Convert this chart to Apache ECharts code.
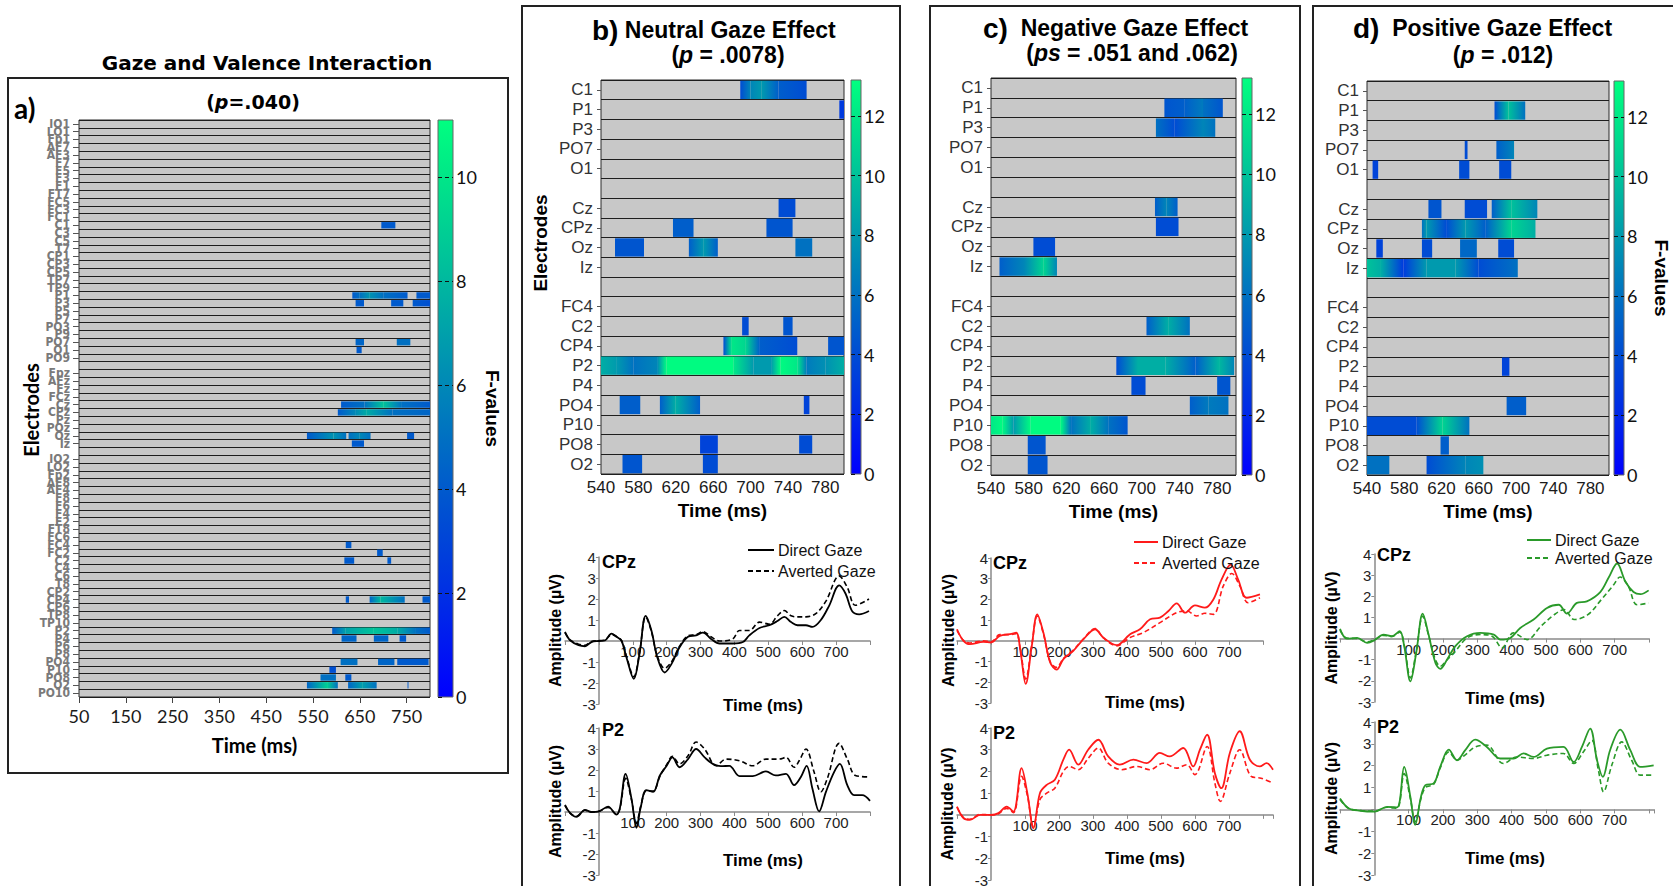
<!DOCTYPE html>
<html><head><meta charset="utf-8">
<script src="https://cdn.jsdelivr.net/npm/echarts@6/dist/echarts.min.js"></script>
<style>html,body{margin:0;padding:0;background:#fff}#c{width:1673px;height:886px}</style>
</head><body><div id="c"></div><script>
// ---------------- DATA ----------------
const electrodesA = ['IO1','LO1','Fp1','AF7','AF3','F7','F5','F3','F1','FT7','FC5','FC3','FC1','C1','C3','C5','T7','CP1','CP3','CP5','TP7','TP9','P1','P3','P5','P7','PO3','P9','PO7','O1','PO9','gap1',
  'Fpz','AFz','Fz','FCz','Cz','CPz','Pz','POz','Oz','Iz','gap2',
  'IO2','LO2','Fp2','AF8','AF4','F8','F6','F4','F2','FT8','FC6','FC4','FC2','C2','C4','C6','T8','CP2','CP4','CP6','TP8','TP10','P2','P4','P6','P8','PO4','P10','PO8','O2','PO10'];
const electrodesBCD = ['C1','P1','P3','PO7','O1','gap1','Cz','CPz','Oz','Iz','gap2','FC4','C2','CP4','P2','P4','PO4','P10','PO8','O2'];

const timeRangeA = [50, 800];   // tick labels 50,150,...,750
const timeStepA = 100;
const timeRangeBCD = [540, 800]; // tick labels 540,580,...,780
const timeStepBCD = 40;
const fMaxA = 11.1, fMaxBCD = 13.2;
const erpTimeMin = -100;

// clusters: [electrode, start ms, end ms, F at start, F at end]
const clustersA = [
 ['C1',696,726,4,4],
 ['P1',634,650,4,5],['P1',650,670,5,6.5],['P1',670,700,6.5,5],['P1',700,752,5,4],['P1',771,800,4,4],
 ['P3',641,659,4,4],['P3',717,743,4,4],['P3',763,800,4,3.5],
 ['PO7',641,659,4.5,4.5],['PO7',729,758,5,5],
 ['O1',643,654,4,4],
 ['Cz',610,660,4,5],['Cz',660,700,5,8.5],['Cz',700,740,8.5,5],['Cz',740,800,5,4],
 ['CPz',603,640,4,6],['CPz',640,665,6,7.5],['CPz',665,720,7.5,5],['CPz',720,800,5,4.5],
 ['Oz',537,594,4,6.5],['Oz',594,621,6.5,5],['Oz',626,650,5,6],['Oz',650,673,6,5],['Oz',751,766,4,4],
 ['Iz',633,659,4,4],
 ['FC4',620,632,4,4],
 ['FC2',687,699,4,4],
 ['C2',617,638,4,4],['C2',709,717,4,4],
 ['CP4',620,627,4,4],['CP4',671,694,4.5,8],['CP4',694,746,8,5],['CP4',784,800,4,4],
 ['P2',591,620,4,7],['P2',620,680,7,8.5],['P2',680,730,8.5,7.5],['P2',730,770,7.5,5],['P2',770,800,5,4],
 ['P4',611,643,4.5,4.5],['P4',680,711,4.5,4.5],['P4',735,749,4,4],
 ['PO4',609,645,5,5],['PO4',689,724,4.5,4.5],['PO4',730,797,4,4],
 ['P10',585,599,3.5,3.5],
 ['PO8',566,599,5,5],['PO8',619,632,4,4],
 ['O2',537,580,4.5,9],['O2',580,603,9,5],['O2',625,655,4.5,7],['O2',655,686,7,5],['O2',752,754,4,4]
];
const clustersB = [
 ['C1',689,700,4,7],['C1',700,712,7,8],['C1',712,730,8,5],['C1',730,760,5,4],
 ['P1',795,800,3,3],
 ['Cz',730,748,4,4],
 ['CPz',617,639,5,5],['CPz',717,745,4.5,4.5],
 ['Oz',555,586,4.5,4.5],['Oz',634,650,5,8],['Oz',650,665,8,5],['Oz',748,766,6,6],
 ['C2',691,698,4,4],['C2',735,745,4.5,4.5],
 ['CP4',671,680,4,12],['CP4',680,695,12,11],['CP4',695,710,11,5],['CP4',710,750,5,4],['CP4',783,800,4.5,4.5],
 ['P2',540,557,9,8],['P2',557,575,8,6],['P2',575,600,6,7],['P2',600,610,7,13],['P2',610,682,13,13],['P2',682,703,12,8],['P2',703,722,8,8],['P2',722,732,8,13],['P2',732,750,13,12],['P2',750,760,12,6.5],['P2',760,780,6.5,7.5],['P2',780,800,7.5,9],
 ['PO4',560,582,5,5],['PO4',603,620,5,9],['PO4',620,646,9,5],['PO4',757,763,3.5,3.5],
 ['PO8',646,665,3.5,3.5],['PO8',752,766,4,4],
 ['O2',563,584,4.5,4.5],['O2',649,665,4,4]
];
const clustersC = [
 ['P1',724,745,4.5,5],['P1',745,765,5,6.5],['P1',765,786,6,4.5],
 ['P3',715,735,6,4],['P3',735,765,4,7],['P3',765,778,7,6],
 ['Cz',714,726,5,7],['Cz',726,738,7,5],
 ['CPz',715,739,4,4],
 ['Oz',585,608,4,4],
 ['Iz',549,575,5,7],['Iz',575,596,7,11],['Iz',596,610,11,7],
 ['C2',705,728,5,9],['C2',728,751,9,6],
 ['P2',673,696,4,9],['P2',696,725,9,9],['P2',725,757,9,5],['P2',757,782,5,9.5],['P2',782,798,9.5,7],
 ['P4',689,704,4,4],['P4',780,794,4.5,4.5],
 ['PO4',751,771,5,6.5],['PO4',771,792,6.5,6],
 ['P10',540,552,12,13],['P10',552,564,13,8],['P10',564,582,8,13],['P10',582,614,13,13],['P10',614,625,13,6],['P10',625,646,6,9],['P10',646,665,9,6],['P10',665,685,6,4.5],
 ['PO8',579,598,4.5,4.5],
 ['O2',579,600,4.5,4.5]
];
const clustersD = [
 ['P1',677,692,4,10],['P1',692,710,10,6],
 ['PO7',645,648,4,4],['PO7',679,698,5,7],
 ['O1',546,552,3.5,3.5],['O1',639,650,4,4],['O1',682,695,4,4],
 ['Cz',606,620,4.5,4.5],['Cz',645,669,4,4],['Cz',674,695,5,10],['Cz',695,723,10,7],
 ['CPz',599,604,6,8],['CPz',604,625,8,4],['CPz',625,646,4,8],['CPz',646,667,8,5],['CPz',667,695,5,11],['CPz',695,721,11,9],
 ['Oz',550,557,3.5,3.5],['Oz',599,610,4,4],['Oz',640,658,5.5,5.5],['Oz',681,698,4,4],
 ['Iz',540,555,10,9],['Iz',555,579,9,3],['Iz',579,604,3,8],['Iz',604,635,8,8],['Iz',635,660,8,4],['Iz',660,702,4,6],
 ['P2',685,693,3.5,3.5],
 ['PO4',690,711,5,5],
 ['P10',540,593,4,4],['P10',593,621,4,11],['P10',621,650,11,6],
 ['PO8',619,628,5,5],
 ['O2',540,564,6,6],['O2',604,646,4,7],['O2',646,665,7,7.5]
];

// ERP waveforms [ms, µV]
const bCpzDirect = [[-100,0.43],[-85,0.03],[-60,-0.2],[-41,-0.25],[-22,-0.05],[0,0],[18,0.03],[37,0.35],[52,0.2],[67,0],[81,-0.76],[103,-1.8],[120,-0.6],[138,1.2],[155,0.5],[172,-0.76],[194,-1.5],[214,-1.1],[238,-0.3],[263,0.2],[287,0.27],[307,0.4],[331,0.1],[356,-0.12],[395,-0.12],[425,-0.05],[444,0.27],[474,0.62],[503,0.75],[527,0.95],[547,1.15],[567,0.9],[586,0.75],[611,0.75],[630,0.67],[655,1.0],[680,1.7],[709,2.65],[728,2.25],[748,1.4],[768,1.27],[797,1.43]];
const bCpzAverted = [[-100,0.4],[-85,0.05],[-60,-0.15],[-41,-0.2],[-22,-0.02],[0,0.02],[18,0.05],[37,0.3],[52,0.22],[67,0.02],[81,-0.7],[103,-1.7],[120,-0.55],[138,1.15],[155,0.45],[172,-0.7],[194,-1.3],[214,-1.0],[238,-0.25],[263,0.25],[287,0.3],[307,0.45],[331,0.2],[356,0.0],[395,0.1],[415,0.5],[444,0.5],[474,0.9],[503,0.8],[527,1.2],[547,1.45],[567,1.2],[586,1.15],[611,1.15],[640,1.3],[670,1.9],[709,3.1],[733,2.55],[757,1.7],[797,2.0]];
const bP2Direct = [[-100,0.34],[-85,-0.05],[-66,-0.23],[-41,0.1],[-22,0],[0,0.03],[27,0.26],[52,-0.12],[62,0.19],[79,1.82],[96,0.65],[111,-0.75],[123,0.19],[140,1.04],[160,0.96],[180,1.74],[200,2.2],[217,2.6],[238,2.13],[263,2.52],[287,3.0],[312,2.6],[336,2.29],[360,2.18],[385,2.2],[415,1.71],[454,1.71],[493,1.93],[522,1.74],[552,1.82],[576,1.28],[596,1.67],[613,2.2],[630,1.12],[650,0.03],[670,0.96],[694,1.9],[711,2.29],[733,1.28],[753,0.8],[777,0.8],[800,0.53]];
const bP2Averted = [[-100,0.3],[-85,-0.05],[-66,-0.2],[-41,0.08],[-22,0],[0,0.03],[27,0.22],[52,-0.1],[62,0.15],[79,1.6],[96,0.6],[111,-0.55],[123,0.25],[140,1.0],[160,1.0],[180,1.7],[200,2.25],[217,2.65],[238,2.29],[263,2.68],[287,3.33],[312,3.0],[346,2.2],[375,2.52],[415,2.44],[454,2.2],[493,2.52],[532,2.52],[552,2.6],[576,2.13],[591,2.44],[611,3.0],[635,1.9],[655,0.96],[674,1.59],[709,3.27],[733,2.52],[757,1.74],[800,1.67]];

const cCpzDirect = [[-100,0.56],[-81,0],[-62,-0.16],[-23,-0.05],[0,-0.08],[26,0.24],[56,0.32],[74,0.4],[87,-0.56],[102,-2.08],[120,-0.24],[136,1.28],[154,0.4],[174,-1.04],[193,-1.39],[213,-0.88],[242,-0.48],[272,0.08],[306,0.56],[330,0.16],[370,-0.21],[409,0.32],[438,0.56],[468,1.04],[497,1.12],[522,1.44],[546,1.81],[571,1.36],[600,1.71],[629,1.6],[654,2.0],[678,2.96],[705,3.68],[727,2.96],[752,2.08],[791,2.24]];
const cCpzAverted = [[-100,0.5],[-81,0.02],[-62,-0.1],[-23,0.0],[0,-0.05],[26,0.3],[56,0.3],[74,0.35],[87,-0.5],[102,-1.84],[120,-0.2],[136,1.2],[154,0.35],[174,-1.0],[193,-1.28],[213,-0.85],[242,-0.45],[272,0.1],[306,0.6],[330,0.15],[370,-0.24],[409,0.16],[448,0.4],[497,0.88],[546,1.36],[576,1.44],[605,1.2],[629,1.33],[654,1.28],[683,2.64],[708,3.25],[732,2.64],[756,1.84],[791,2.08]];
const cP2Direct = [[-100,0.38],[-81,-0.15],[-62,-0.23],[-32,0],[0,0],[22,0.08],[46,0.38],[66,0.15],[90,2.15],[107,1.0],[125,-0.62],[144,1.0],[164,1.38],[188,1.62],[213,2.54],[230,3.0],[257,2.31],[286,3.0],[316,3.46],[345,2.69],[379,2.31],[419,2.54],[458,2.38],[497,2.85],[526,2.69],[566,3.08],[595,2.23],[615,3.0],[636,3.69],[659,1.92],[678,1.23],[703,2.85],[732,3.85],[762,2.54],[791,2.23],[811,2.38],[830,2.08]];
const cP2Averted = [[-100,0.35],[-81,-0.12],[-62,-0.2],[-32,0.02],[0,0],[22,0.05],[46,0.3],[66,0.1],[90,1.77],[107,0.9],[125,-0.54],[144,0.7],[164,1.0],[188,1.23],[213,2.0],[230,2.23],[257,2.08],[286,2.6],[316,3.08],[345,2.38],[385,2.08],[429,2.23],[468,2.08],[507,2.38],[546,2.15],[576,2.31],[600,1.85],[636,3.15],[659,1.46],[675,0.62],[703,1.92],[732,3.0],[766,1.77],[795,1.69],[830,1.46]];

const dCpzDirect = [[-100,0.46],[-80,0],[-50,0.03],[-21,-0.2],[0,-0.08],[27,0.19],[51,0.11],[74,0.35],[87,-0.36],[105,-2.02],[122,-0.68],[141,1.18],[158,0.19],[178,-1.15],[192,-1.43],[212,-0.99],[236,-0.36],[270,0.11],[309,0.27],[348,0.19],[367,-0.05],[396,0.03],[425,0.5],[464,0.9],[503,1.45],[537,1.6],[561,1.18],[590,1.69],[619,1.76],[658,2.2],[683,2.9],[707,3.55],[731,2.7],[755,2.2],[775,2.1],[799,2.28]];
const dCpzAverted = [[-100,0.4],[-80,0.02],[-50,0.0],[-21,-0.15],[0,-0.05],[27,0.15],[51,0.1],[74,0.3],[87,-0.3],[105,-1.86],[122,-0.6],[141,1.06],[158,0.15],[178,-1.0],[192,-1.31],[212,-1.0],[236,-0.6],[270,0.03],[309,0.19],[343,0.11],[372,-0.44],[405,0.27],[445,-0.05],[485,0.58],[524,1.13],[553,1.37],[582,0.9],[622,1.13],[661,1.84],[695,2.5],[716,2.91],[740,2.47],[765,1.6],[799,1.68]];
const dP2Direct = [[-100,0.5],[-75,0.05],[-41,-0.06],[0,-0.1],[37,0.12],[66,0.09],[87,1.95],[105,0.58],[119,-0.71],[136,0.58],[149,1.11],[173,1.19],[192,1.95],[217,2.74],[241,2.25],[265,2.71],[294,3.19],[328,2.86],[367,2.33],[406,2.33],[435,2.56],[464,2.4],[503,2.78],[551,2.86],[581,2.17],[605,2.86],[629,3.7],[649,2.25],[666,1.49],[687,2.71],[717,3.65],[746,2.71],[775,1.95],[814,2.02]];
const dP2Averted = [[-100,0.45],[-75,0.05],[-41,-0.05],[0,-0.08],[37,0.1],[66,0.05],[87,1.64],[105,0.5],[119,-0.56],[136,0.5],[149,1.0],[173,1.15],[192,1.9],[217,2.63],[241,2.25],[265,2.5],[294,2.86],[328,2.94],[376,2.1],[415,2.4],[464,2.33],[503,2.48],[551,2.56],[581,2.1],[609,2.63],[634,3.16],[653,1.79],[668,0.81],[692,2.02],[721,3.09],[750,2.25],[775,1.57],[814,1.57]];

// ---------------- STYLE / HELPERS ----------------
const ARIAL = "'Liberation Sans', Arial, sans-serif";
const CALIBRI = "Lato, 'Open Sans', sans-serif";
const VERDANA = "'DejaVu Sans', Verdana, sans-serif";
const NARROW = "'Liberation Sans Narrow','DejaVu Sans Condensed','Liberation Sans', sans-serif";

const cmapStops = [[0,[0,0,255]],[0.15,[0,40,232]],[0.3,[0,75,212]],[0.45,[0,112,194]],[0.6,[0,152,175]],[0.75,[0,192,155]],[0.9,[0,230,136]],[1,[0,255,128]]];
function cmap(v, max){
  let f = Math.max(0, Math.min(1, v / max));
  for (let i = 1; i < cmapStops.length; i++){
    const [f1,c1] = cmapStops[i], [f0,c0] = cmapStops[i-1];
    if (f <= f1){
      const k = (f - f0) / (f1 - f0);
      return 'rgb(' + c0.map((c,j)=>Math.round(c + (c1[j]-c)*k)).join(',') + ')';
    }
  }
  return 'rgb(0,255,128)';
}
const isGap = v => String(v).indexOf('gap') === 0;

function heatRender(max){
  return function(params, api){
    const row = api.value(0), t0 = api.value(1), t1 = api.value(2);
    const p0 = api.coord([t0, row]), p1 = api.coord([t1, row]);
    const h = api.size([0, 1])[1];
    const cs = params.coordSys;
    const shape = echarts.graphic.clipRectByRect(
      {x: p0[0], y: p0[1] - h/2 + 0.7, width: p1[0] - p0[0], height: h - 1.4},
      {x: cs.x, y: cs.y, width: cs.width, height: cs.height});
    if (!shape) return;
    return {type:'rect', shape: shape, style:{
      fill: new echarts.graphic.LinearGradient(0,0,1,0,[{offset:0,color:cmap(api.value(3),max)},{offset:1,color:cmap(api.value(4),max)}])
    }};
  };
}
function cbarRender(max){
  return function(params, api){
    const b = api.coord([0, 0]), t = api.coord([1, api.value(1)]);
    return {type:'rect', shape:{x:b[0], y:t[1], width:t[0]-b[0], height:b[1]-t[1]},
      style:{fill: new echarts.graphic.LinearGradient(0,1,0,0, cmapStops.map(s=>({offset:s[0], color:'rgb('+s[1].join(',')+')'}))),
             stroke:'#666', lineWidth:1}};
  };
}

const option = {animation:false, backgroundColor:'#fff', grid:[], xAxis:[], yAxis:[], series:[], legend:[], graphic:[]};

function addHeat(p){
  const gi = option.grid.length;
  const rows = p.rows;
  option.grid.push({left:p.left, top:p.top, width:p.width, height:p.height, show:true, backgroundColor:'#c8c8c8', borderColor:'#2a2a2a', borderWidth:1, outerBoundsMode:'none', containLabel:false});
  option.xAxis.push({gridIndex:gi, type:'value', min:p.range[0], max:p.range[1], interval:p.step,
    axisLine:{show:false}, axisTick:{show:p.xTick, length:6, lineStyle:{color:'#444'}}, splitLine:{show:false},
    axisLabel:{showMaxLabel:false, fontSize:p.xFont, fontFamily:p.xFamily, color:'#1a1a1a', margin:p.xMargin},
    name:'Time (ms)', nameLocation:'middle', nameGap:p.nameGap,
    nameTextStyle:{fontSize:p.nameFont, fontWeight:'bold', fontFamily:p.nameFamily, color:'#000'}});
  option.yAxis.push({gridIndex:gi, type:'category', data:rows, inverse:true,
    axisLine:{show:false},
    axisTick:{show:true, alignWithLabel:true, length:p.tickLen, interval:(i,v)=>!isGap(v), lineStyle:{color:'#555'}},
    axisLabel:{interval:0, formatter:v=>isGap(v)?'':v, fontSize:p.yFont, fontFamily:p.yFamily, fontWeight:p.yWeight, color:p.yColor, margin:p.yMargin},
    splitLine:{show:true, interval:0, lineStyle:{color:'#1e1e1e', width:1}}});
  option.series.push({type:'custom', xAxisIndex:gi, yAxisIndex:gi, renderItem:heatRender(p.max), encode:{x:[1,2], y:0}, clip:true,
    data:p.clusters.map(c=>[rows.indexOf(c[0]), c[1], c[2], c[3], c[4]])});
}
function addCbar(p){
  const gi = option.grid.length;
  option.grid.push({left:p.left, top:p.top, width:p.width, height:p.height, show:false, outerBoundsMode:'none', containLabel:false});
  option.xAxis.push({gridIndex:gi, type:'value', min:0, max:1, show:false});
  option.yAxis.push({gridIndex:gi, type:'value', position:'right', min:0, max:p.max, interval:2, z:5,
    axisLine:{show:false}, axisTick:{show:true, length:4, lineStyle:{color:'#111'}},
    splitLine:{show:true, showMaxLine:false, showMinLine:false, lineStyle:{color:'#111', type:[4,3], width:1}},
    axisLabel:{showMaxLabel:false, fontSize:p.font, fontFamily:CALIBRI, color:'#111', margin:3},
    name:p.name || '', nameLocation:'middle', nameRotate:-90, nameGap:p.nameGap || 30,
    nameTextStyle:{fontSize:19, fontWeight:'bold', fontFamily:ARIAL, color:'#000'}});
  option.series.push({type:'custom', xAxisIndex:gi, yAxisIndex:gi, renderItem:cbarRender(p.max), encode:{x:0, y:1}, data:[[0, p.max]], silent:true});
}
function addErp(p){
  const gi = option.grid.length;
  const yMin = -3, yMax = 4;
  // shift axes so they cross at (0 ms, 0 µV)
  const xOff = -p.height * (0 - yMin) / (yMax - yMin);
  const yOff = -p.width * (0 - erpTimeMin) / (p.xmax - erpTimeMin);
  option.grid.push({left:p.left, top:p.top, width:p.width, height:p.height, show:false, outerBoundsMode:'none', containLabel:false});
  option.xAxis.push({gridIndex:gi, type:'value', min:erpTimeMin, max:p.xmax, interval:100, position:'bottom', offset:xOff,
    axisLine:{show:true, onZero:false, lineStyle:{color:'#8a8a8a', width:1.5}},
    axisTick:{show:true, length:4, lineStyle:{color:'#8a8a8a'}}, splitLine:{show:false},
    axisLabel:{formatter:v=>(v>0 && v<800)?String(v):'', fontSize:15, fontFamily:ARIAL, color:'#222', margin:3, showMinLabel:true, showMaxLabel:true}});
  option.yAxis.push({gridIndex:gi, type:'value', min:yMin, max:yMax, interval:1, position:'left', offset:yOff,
    axisLine:{show:true, onZero:false, lineStyle:{color:'#8a8a8a', width:1.5}},
    axisTick:{show:true, length:3, lineStyle:{color:'#8a8a8a'}}, splitLine:{show:false},
    axisLabel:{formatter:v=>v===0?'':String(v), fontSize:15, fontFamily:ARIAL, color:'#222', margin:3},
    name:'Amplitude (µV)', nameLocation:'middle', nameRotate:90, nameGap:p.nameGap,
    nameTextStyle:{fontSize:16, fontWeight:'bold', fontFamily:ARIAL, color:'#000'}});
  option.series.push({type:'line', name:p.names[0], xAxisIndex:gi, yAxisIndex:gi, data:p.direct, smooth:0.35, symbol:'none', lineStyle:{color:p.color, width:1.8, type:'solid'}, itemStyle:{color:p.color}, z:3});
  option.series.push({type:'line', name:p.names[1], xAxisIndex:gi, yAxisIndex:gi, data:p.averted, smooth:0.35, symbol:'none', lineStyle:{color:p.color, width:1.6, type:[5,3]}, itemStyle:{color:p.color}, z:3});
}
function txt(x, y, text, o){
  o = o || {};
  const st = {text:text, fill:o.color||'#000', fontSize:o.size||16, fontWeight:o.weight||'bold', fontFamily:o.family||ARIAL,
    fontStyle:o.style||'normal', textAlign:o.align||'center', textVerticalAlign:'middle', align:o.align||'center', verticalAlign:'middle'};
  if (o.rich) st.rich = o.rich;
  option.graphic.push({type:'text', x:x, y:y, rotation:o.rot||0, style:st, z:10});
}
function box(x, y, w, h){
  option.graphic.push({type:'rect', shape:{x:x, y:y, width:w, height:h}, style:{fill:'none', stroke:'#222', lineWidth:2}, z:0, silent:true});
}

// ---------------- PANEL A ----------------
addHeat({rows:electrodesA, clusters:clustersA, max:fMaxA, range:timeRangeA, step:timeStepA, left:79, top:120, width:351, height:577,
  xTick:true, xFont:18, xFamily:CALIBRI, xMargin:10, nameGap:38, nameFont:20, nameFamily:CALIBRI,
  tickLen:6, yFont:12, yFamily:NARROW, yWeight:'bold', yColor:'#7a7a7a', yMargin:9});
addCbar({left:438, top:120, width:15, height:577, max:fMaxA, font:18, name:'F-values', nameGap:30});

// ---------------- PANELS B, C, D ----------------
const heatCommon = {rows:electrodesBCD, max:fMaxBCD, range:timeRangeBCD, step:timeStepBCD, xTick:false, xFont:17, xFamily:ARIAL, xMargin:5,
  nameGap:27, nameFont:19, nameFamily:ARIAL, tickLen:4, yFont:17, yFamily:ARIAL, yWeight:'normal', yColor:'#333', yMargin:8};
addHeat(Object.assign({}, heatCommon, {clusters:clustersB, left:601, top:80, width:243, height:394}));
addCbar({left:851, top:80, width:10, height:394, max:fMaxBCD, font:18});
addHeat(Object.assign({}, heatCommon, {clusters:clustersC, left:991, top:78, width:245, height:397}));
addCbar({left:1242, top:78, width:10, height:397, max:fMaxBCD, font:18});
addHeat(Object.assign({}, heatCommon, {clusters:clustersD, left:1367, top:81, width:242, height:394}));
addCbar({left:1614, top:81, width:10, height:394, max:fMaxBCD, font:18, name:'F-values', nameGap:28});

addErp({left:565, top:557, width:305, height:147, xmax:800, direct:bCpzDirect, averted:bCpzAverted, color:'#000', names:['Direct Gaze','Averted Gaze'], nameGap:35});
addErp({left:565, top:728, width:305, height:147, xmax:800, direct:bP2Direct, averted:bP2Averted, color:'#000', names:['bP2d','bP2a'], nameGap:35});
addErp({left:957, top:558, width:306, height:145, xmax:800, direct:cCpzDirect, averted:cCpzAverted, color:'#ff1a1a', names:['Direct Gaze ','Averted Gaze '], nameGap:35});
addErp({left:957, top:728, width:316, height:152, xmax:830, direct:cP2Direct, averted:cP2Averted, color:'#ff1a1a', names:['cP2d','cP2a'], nameGap:35});
addErp({left:1340, top:554, width:309, height:148, xmax:800, direct:dCpzDirect, averted:dCpzAverted, color:'#2a9a2a', names:['Direct Gaze  ','Averted Gaze  '], nameGap:35});
addErp({left:1340, top:722, width:314, height:153, xmax:815, direct:dP2Direct, averted:dP2Averted, color:'#2a9a2a', names:['dP2d','dP2a'], nameGap:35});

function legend(left, top, names, gap, w){
  option.legend.push({left:left, top:top, orient:'vertical', data:names, itemWidth:w, itemHeight:12, itemGap:gap, selectedMode:false,
    itemStyle:{color:'rgba(0,0,0,0)', borderColor:'rgba(0,0,0,0)', borderWidth:0, opacity:0},
    formatter:n=>n.trim(), textStyle:{fontSize:16, fontFamily:ARIAL, color:'#111', padding:[0,0,0,-1]}});
}
legend(742, 537, ['Direct Gaze','Averted Gaze'], 5, 26);
legend(1128, 529, ['Direct Gaze ','Averted Gaze '], 5, 24);
legend(1521, 527, ['Direct Gaze  ','Averted Gaze  '], 2, 24);

// ---------------- TEXT & FRAMES ----------------
box(8, 78, 500, 695);
box(522, 6, 378, 900);
box(930, 6, 370, 900);
box(1313, 6, 400, 900);

txt(267, 63, 'Gaze and Valence Interaction', {size:20, family:VERDANA});
txt(253, 102, '({i|p}=.040)', {size:19, family:VERDANA, rich:{i:{fontStyle:'italic', fontWeight:'bold', fontSize:19, fontFamily:VERDANA}}});
txt(14, 108, 'a)', {size:28, family:CALIBRI, align:'left'});
txt(31, 410, 'Electrodes', {size:20, family:CALIBRI, rot:Math.PI/2});

txt(592, 30, '{l|b)} Neutral Gaze Effect', {size:23, align:'left', rich:{l:{fontSize:28, fontWeight:'bold', fontFamily:ARIAL}}});
txt(728, 55, '({i|p} = .0078)', {size:23, rich:{i:{fontStyle:'italic', fontWeight:'bold', fontSize:23, fontFamily:ARIAL}}});
txt(540, 243, 'Electrodes', {size:19, rot:Math.PI/2});

txt(983, 28, '{l|c)}  Negative Gaze Effect', {size:23, align:'left', rich:{l:{fontSize:28, fontWeight:'bold', fontFamily:ARIAL}}});
txt(1132, 53, '({i|ps} = .051 and .062)', {size:23, rich:{i:{fontStyle:'italic', fontWeight:'bold', fontSize:23, fontFamily:ARIAL}}});

txt(1353, 28, '{l|d)}  Positive Gaze Effect', {size:23, align:'left', rich:{l:{fontSize:28, fontWeight:'bold', fontFamily:ARIAL}}});
txt(1503, 55, '({i|p} = .012)', {size:23, rich:{i:{fontStyle:'italic', fontWeight:'bold', fontSize:23, fontFamily:ARIAL}}});

// ERP panel labels
txt(602, 562, 'CPz', {size:18, align:'left'});
txt(602, 730, 'P2', {size:18, align:'left'});
txt(763, 705, 'Time (ms)', {size:17});
txt(763, 860, 'Time (ms)', {size:17});
txt(993, 563, 'CPz', {size:18, align:'left'});
txt(993, 733, 'P2', {size:18, align:'left'});
txt(1145, 702, 'Time (ms)', {size:17});
txt(1145, 858, 'Time (ms)', {size:17});
txt(1377, 555, 'CPz', {size:18, align:'left'});
txt(1377, 727, 'P2', {size:18, align:'left'});
txt(1505, 698, 'Time (ms)', {size:17});
txt(1505, 858, 'Time (ms)', {size:17});

const chart = echarts.init(document.getElementById('c'), null, {renderer:'svg', width:1673, height:886});
chart.setOption(option);
</script></body></html>
